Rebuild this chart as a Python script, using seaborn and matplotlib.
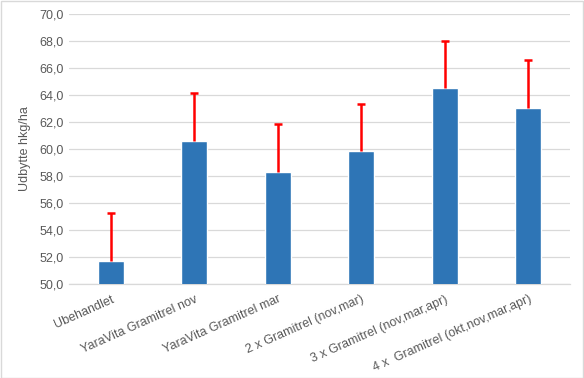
import numpy as np
import pandas as pd
from matplotlib import pyplot as plt
import seaborn as sns

treatments = ["Ubehandlet", "YaraVita Gramitrel nov", "YaraVita Gramitrel mar",
              "2 x Gramitrel (nov,mar)", "3 x Gramitrel (nov,mar,apr)",
              "4 x  Gramitrel (okt,nov,mar,apr)"]
yields = [51.7, 60.6, 58.3, 59.85, 64.5, 63.0]
errors = [3.5, 3.5, 3.5, 3.5, 3.5, 3.6]

sns.set_theme(style="white")
plt.rcParams["font.family"] = ["Liberation Sans", "DejaVu Sans"]

df = pd.DataFrame({"treatment": treatments, "yield": yields})

fig, ax = plt.subplots(figsize=(5.84, 3.78), dpi=100)
fig.subplots_adjust(left=0.118, right=0.976, top=0.963, bottom=0.25)

sns.barplot(data=df, x="treatment", y="yield", color="#2E75B6", saturation=1,
            width=0.31, ax=ax, zorder=3)

eb = ax.errorbar(np.arange(len(yields)), yields, yerr=[np.zeros(len(errors)), errors],
                 fmt="none", ecolor="#FF0000", elinewidth=1.8, capsize=3, capthick=1.8, zorder=4)
eb[1][0].set_visible(False)

ax.set_ylim(50, 70)
ax.set_yticks(np.arange(50, 71, 2))
ax.set_yticklabels([f"{v:.1f}".replace(".", ",") for v in np.arange(50, 71, 2)])
ax.set_xlim(-0.5, len(treatments) - 0.5)
ax.yaxis.grid(True, color="#D9D9D9", linewidth=0.9, zorder=0)
ax.set_axisbelow(True)

for s in ["top", "right", "left"]:
    ax.spines[s].set_visible(False)
ax.spines["bottom"].set_color("#D9D9D9")
ax.spines["bottom"].set_linewidth(0.9)

ax.tick_params(axis="both", length=0, colors="#595959", labelsize=9)
plt.setp(ax.get_xticklabels(), rotation=24, ha="right", rotation_mode="anchor")
ax.tick_params(axis="x", pad=7)
ax.set_xlabel("")
ax.set_ylabel("Udbytte hkg/ha", color="#595959", fontsize=9, labelpad=6)

fig.patches.append(plt.Rectangle((0.001, 0.001), 0.997, 0.996, transform=fig.transFigure,
                                 fill=False, edgecolor="#D9D9D9", linewidth=1))

fig.savefig("out.png", dpi=100)
